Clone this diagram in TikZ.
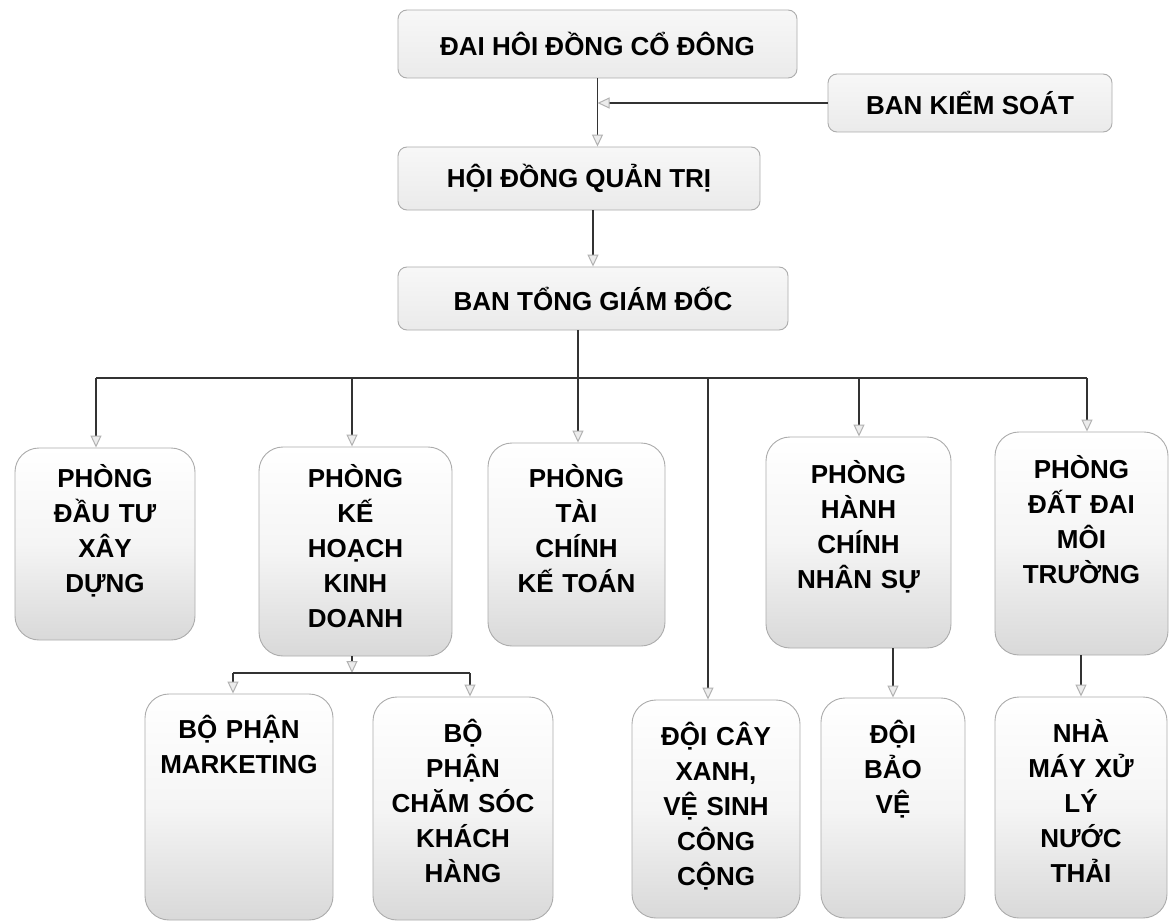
\documentclass[tikz,border=0pt]{standalone}
\usepackage{fontspec}
\setmainfont{Liberation Sans}
\usetikzlibrary{arrows.meta,calc}
\begin{document}
\begin{tikzpicture}[x=1pt,y=-1pt,
  lbl/.style={font=\fontsize{26}{35}\selectfont\bfseries, text=black},
  ubox/.style={lbl, draw=gray!65, line width=0.9pt, rounded corners=9pt, top color=gray!6, bottom color=gray!16, inner sep=0pt, align=center},
  lbox/.style={draw=gray!65, line width=0.9pt, rounded corners=24pt, top color=white, bottom color=gray!30, middle color=gray!8, inner sep=0pt},
  txt/.style={lbl, text width=190pt, align=center, inner sep=0pt, anchor=base},
  conn/.style={draw=gray!40!black, line width=1.1pt},
  arr/.style={conn, -{Triangle[length=12pt,width=11pt,fill=gray!15,color=gray!60,line width=1pt]}}
]
\useasboundingbox[fill=white] (0,0) rectangle (1173,923);

% upper boxes
\node[ubox, minimum width=399pt, minimum height=68pt] (dh) at (597.5,44) {ĐAI HÔI ĐỒNG CỔ ĐÔNG};
\node[ubox, minimum width=284pt, minimum height=58pt] (bks) at (970,103) {BAN KIỂM SOÁT};
\node[ubox, minimum width=362pt, minimum height=63pt] (hd) at (579,178.5) {HỘI ĐỒNG QUẢN TRỊ};
\node[ubox, minimum width=390pt, minimum height=63pt] (bt) at (593,298.5) {BAN TỔNG GIÁM ĐỐC};

% second row boxes
\node[lbox, minimum width=180pt, minimum height=192pt] (pdt) at (105,544) {};
\node[lbox, minimum width=193pt, minimum height=209pt] (pkh) at (355.5,551.5) {};
\node[lbox, minimum width=177pt, minimum height=203pt] (ptc) at (576.5,544.5) {};
\node[lbox, minimum width=185pt, minimum height=211pt] (phc) at (858.5,542.5) {};
\node[lbox, minimum width=173pt, minimum height=223pt] (pdd) at (1081.5,543.5) {};

% third row boxes
\node[lbox, minimum width=188pt, minimum height=226pt] (bpm) at (239,807) {};
\node[lbox, minimum width=180pt, minimum height=223pt] (bcs) at (463,808.5) {};
\node[lbox, minimum width=168pt, minimum height=218pt] (dcx) at (716,809) {};
\node[lbox, minimum width=144pt, minimum height=220pt] (dbv) at (893,808) {};
\node[lbox, minimum width=172pt, minimum height=221pt] (nmx) at (1081,807.5) {};

% texts
\node[txt] (t-pdt) at (105,487) {PHÒNG\\ĐẦU TƯ\\XÂY\\DỰNG};
\node[txt] (t-pkh) at (355.5,487) {PHÒNG\\KẾ\\HOẠCH\\KINH\\DOANH};
\node[txt] (t-ptc) at (576.5,487) {PHÒNG\\TÀI\\CHÍNH\\KẾ TOÁN};
\node[txt] (t-phc) at (858.5,483) {PHÒNG\\HÀNH\\CHÍNH\\NHÂN SỰ};
\node[txt] (t-pdd) at (1081.5,478) {PHÒNG\\ĐẤT ĐAI\\MÔI\\TRƯỜNG};
\node[txt] (t-bpm) at (239,738) {BỘ PHẬN\\MARKETING};
\node[txt] (t-bcs) at (463,742) {BỘ\\PHẬN\\CHĂM SÓC\\KHÁCH\\HÀNG};
\node[txt] (t-dcx) at (716,745) {ĐỘI CÂY\\XANH,\\VỆ SINH\\CÔNG\\CỘNG};
\node[txt] (t-dbv) at (893,743) {ĐỘI\\BẢO\\VỆ};
\node[txt] (t-nmx) at (1081,742) {NHÀ\\MÁY XỬ\\LÝ\\NƯỚC\\THẢI};

% connectors top
\draw[arr] (dh.south) -- (dh.south |- hd.north);
\draw[arr] (bks.west) -- (dh.south |- bks.west);
\draw[arr] (hd.south -| bt.north) -- (bt.north);

% main bus
\coordinate (bus) at (578,378);
\coordinate (d1) at (96,378);
\coordinate (d2) at (352,378);
\coordinate (d3) at (578,378);
\coordinate (d4) at (708,378);
\coordinate (d5) at (859,378);
\coordinate (d6) at (1087,378);
\draw[conn] (bt.south -| bus) -- (bus);
\draw[conn] (d1) -- (d6);
\draw[arr] (d1) -- (d1 |- pdt.north);
\draw[arr] (d2) -- (d2 |- pkh.north);
\draw[arr] (d3) -- (d3 |- ptc.north);
\draw[arr] (d4) -- (d4 |- dcx.north);
\draw[arr] (d5) -- (d5 |- phc.north);
\draw[arr] (d6) -- (d6 |- pdd.north);

% sub bus under KHKD
\coordinate (sb) at (352,673);
\coordinate (sbL) at (233,673);
\coordinate (sbR) at (470,673);
\draw[arr] (pkh.south -| sb) -- (sb);
\draw[conn] (sbL) -- (sbR);
\draw[arr] (sbL) -- (sbL |- bpm.north);
\draw[arr] (sbR) -- (sbR |- bcs.north);

% lower drops
\draw[arr] (phc.south -| dbv.north) -- (dbv.north);
\draw[arr] (pdd.south -| nmx.north) -- (nmx.north);
\end{tikzpicture}
\end{document}
